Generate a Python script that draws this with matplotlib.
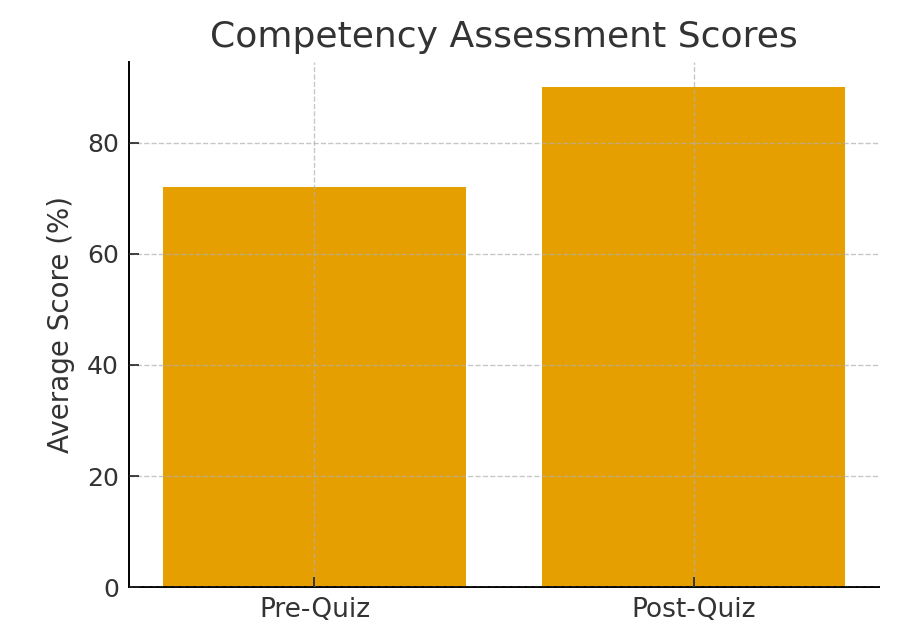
import matplotlib.pyplot as plt

# ----------------------------------
# DATA
# ----------------------------------

categories = ['Pre-Quiz', 'Post-Quiz']
scores = [72, 90]

# ----------------------------------
# PLOT
# ----------------------------------

fig, ax = plt.subplots(figsize=(9, 6.26), dpi=100)
fig.subplots_adjust(left=0.143, right=0.977, bottom=0.062, top=0.901)

ax.bar(categories, scores, color='#E69F00', width=0.8, zorder=1)

ax.set_title("Competency Assessment Scores", fontsize=26, color='#333333', pad=11)
ax.set_ylabel("Average Score (%)", fontsize=20, color='#333333', labelpad=9)

ax.tick_params(axis='both', direction='in', length=7, width=1.2,
               colors='#222222', pad=7)
ax.tick_params(axis='x', labelsize=19)
ax.tick_params(axis='y', labelsize=18)
for lbl in ax.get_xticklabels() + ax.get_yticklabels():
    lbl.set_color('#333333')

# grid drawn on top of the bars
ax.set_axisbelow(False)
ax.grid(True, linestyle='--', color='#b0b0b0', linewidth=1.0, alpha=0.7)

ax.spines['top'].set_visible(False)
ax.spines['right'].set_visible(False)
ax.spines['left'].set_linewidth(1.4)
ax.spines['bottom'].set_linewidth(1.4)

fig.savefig("out.png")
plt.close()
